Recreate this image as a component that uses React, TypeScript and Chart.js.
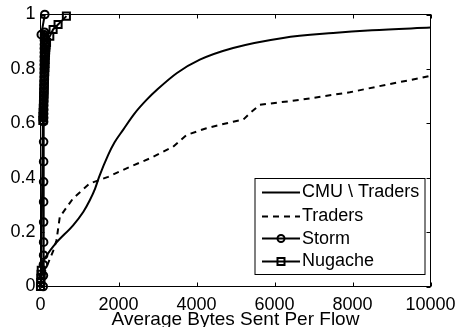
import React, { useEffect, useRef } from "react";
import { Chart, registerables } from "chart.js";
Chart.register(...registerables);

// CMU \ Traders (solid)
const cmuX = [0, 50, 160, 400, 836, 1100, 1264, 1400, 1503, 1733, 1900, 2118, 2400, 2718, 3000, 3500, 4085, 4939, 6221, 7503, 8500, 10000];
const cmuY = [0, 0.08, 0.114, 0.16, 0.225, 0.275, 0.317, 0.36, 0.403, 0.483, 0.53, 0.576, 0.634, 0.686, 0.725, 0.785, 0.834, 0.877, 0.914, 0.932, 0.942, 0.952];

// Traders (dashed)
const tradersX = [0, 150, 323, 410, 495, 836, 1264, 1733, 2290, 2803, 3400, 3744, 4256, 4939, 5195, 5367, 5623, 6649, 7931, 8872, 9726, 10000];
const tradersY = [0, 0.07, 0.13, 0.17, 0.256, 0.324, 0.379, 0.403, 0.44, 0.471, 0.514, 0.557, 0.582, 0.606, 0.613, 0.637, 0.668, 0.686, 0.714, 0.742, 0.766, 0.775];

// Storm (circles)
const stormX = [70, 75, 75, 80, 80, 80, 80, 80, 80, 80, 80, 82, 82, 84, 84, 86, 86, 88, 88, 90, 90, 92, 92, 94, 94, 96, 96, 98, 98, 100, 100, 102, 102, 104, 20, 110];
const stormY = [0, 0.04, 0.08, 0.115, 0.163, 0.237, 0.311, 0.385, 0.459, 0.532, 0.606, 0.62, 0.635, 0.65, 0.665, 0.68, 0.695, 0.71, 0.725, 0.74, 0.755, 0.77, 0.785, 0.8, 0.815, 0.83, 0.845, 0.86, 0.875, 0.89, 0.905, 0.915, 0.925, 0.935, 0.926, 1.0];

// Nugache (squares)
const nugacheX = [0, 5, 10, 15, 20, 60, 64, 68, 72, 76, 80, 84, 88, 92, 96, 100, 104, 108, 112, 116, 120, 124, 128, 132, 136, 140, 154, 238, 323, 451, 664];
const nugacheY = [0, 0.015, 0.03, 0.045, 0.06, 0.61, 0.625, 0.64, 0.655, 0.67, 0.685, 0.7, 0.715, 0.73, 0.745, 0.76, 0.775, 0.79, 0.805, 0.82, 0.835, 0.85, 0.86, 0.87, 0.88, 0.888, 0.897, 0.92, 0.945, 0.963, 0.994];

const xTicks = [0, 2000, 4000, 6000, 8000, 10000];
const yTicks = [0, 0.2, 0.4, 0.6, 0.8, 1];
const seriesNames = ["CMU \\ Traders", "Traders", "Storm", "Nugache"];
const xTitle = "Average Bytes Sent Per Flow";

const FONT = "'Liberation Sans', Arial, Helvetica, sans-serif";

const pts = (xs: number[], ys: number[]) => xs.map((x, i) => ({ x, y: ys[i] }));

const framePlugin = {
  id: "matlabFrame",
  afterDatasetsDraw(chart: any) {
    const { ctx, chartArea: a, scales } = chart;
    ctx.save();
    ctx.strokeStyle = "#000";
    ctx.lineWidth = 1;
    ctx.strokeRect(a.left, a.top, a.right - a.left, a.bottom - a.top);
    const tl = 4;
    ctx.beginPath();
    for (const v of xTicks) {
      const x = Math.round(scales.x.getPixelForValue(v)) + 0.5;
      ctx.moveTo(x, a.bottom);
      ctx.lineTo(x, a.bottom - tl);
      ctx.moveTo(x, a.top);
      ctx.lineTo(x, a.top + tl);
    }
    for (const v of yTicks) {
      const y = Math.round(scales.y.getPixelForValue(v)) + 0.5;
      ctx.moveTo(a.left, y);
      ctx.lineTo(a.left + tl, y);
      ctx.moveTo(a.right, y);
      ctx.lineTo(a.right - tl, y);
    }
    ctx.stroke();
    ctx.restore();
  },
  afterDraw(chart: any) {
    const { ctx, chartArea: a } = chart;
    const bx = a.right - 175.5;
    const by = a.bottom - 108;
    const bw = 170;
    const bh = 96;
    ctx.save();
    ctx.fillStyle = "#fff";
    ctx.fillRect(bx, by, bw, bh);
    ctx.strokeStyle = "#000";
    ctx.lineWidth = 1;
    ctx.strokeRect(bx, by, bw, bh);
    ctx.font = `18px ${FONT}`;
    ctx.textBaseline = "middle";
    ctx.textAlign = "left";
    ctx.fillStyle = "#000";
    const rowY = [13, 37, 59.5, 82];
    const x0 = bx + 7;
    const x1 = bx + 45;
    seriesNames.forEach((name, i) => {
      const y = Math.round(by + rowY[i]) + 0.5;
      ctx.beginPath();
      ctx.lineWidth = 2;
      ctx.setLineDash(i === 1 ? [6, 5] : []);
      ctx.moveTo(x0, y);
      ctx.lineTo(x1, y);
      ctx.stroke();
      ctx.setLineDash([]);
      const cx = (x0 + x1) / 2;
      if (i === 2) {
        ctx.beginPath();
        ctx.arc(cx, y, 3.5, 0, Math.PI * 2);
        ctx.stroke();
      } else if (i === 3) {
        ctx.strokeRect(cx - 3.5, y - 3.5, 7, 7);
      }
      ctx.fillText(name, x1 + 2, by + rowY[i] + 1);
    });
    ctx.restore();
  },
};

export default function App() {
  const ref = useRef<HTMLCanvasElement>(null);
  useEffect(() => {
    if (!ref.current) return;
    const chart = new Chart(ref.current, {
      type: "scatter",
      data: {
        datasets: [
          {
            label: seriesNames[0],
            data: pts(cmuX, cmuY),
            showLine: true,
            borderColor: "#000",
            borderWidth: 2,
            pointRadius: 0,
            cubicInterpolationMode: "monotone",
            order: 4,
          },
          {
            label: seriesNames[1],
            data: pts(tradersX, tradersY),
            showLine: true,
            borderColor: "#000",
            borderWidth: 2,
            borderDash: [6, 5],
            pointRadius: 0,
            order: 3,
          },
          {
            label: seriesNames[2],
            data: pts(stormX, stormY),
            showLine: true,
            borderColor: "#000",
            borderWidth: 2,
            pointStyle: "circle",
            pointRadius: 3.8,
            pointBorderWidth: 2,
            pointBorderColor: "#000",
            pointBackgroundColor: "rgba(0,0,0,0)",
            clip: false,
            order: 2,
          },
          {
            label: seriesNames[3],
            data: pts(nugacheX, nugacheY),
            showLine: true,
            borderColor: "#000",
            borderWidth: 2,
            pointStyle: "rect",
            pointRadius: 5,
            pointBorderWidth: 2,
            pointBorderColor: "#000",
            pointBackgroundColor: "rgba(0,0,0,0)",
            clip: false,
            order: 1,
          },
        ] as any,
      },
      options: {
        responsive: false,
        animation: false,
        devicePixelRatio: 1,
        layout: { padding: { top: 14.5, right: 25.5, left: 0, bottom: 0 } },
        plugins: { legend: { display: false }, tooltip: { enabled: false } },
        scales: {
          x: {
            type: "linear",
            min: 0,
            max: 10000,
            grid: { display: false, drawTicks: false },
            border: { display: false },
            afterBuildTicks: (s: any) => {
              s.ticks = xTicks.map((v) => ({ value: v }));
            },
            afterFit: (s: any) => {
              s.height = 40.5;
              s.paddingLeft = 0;
              s.paddingRight = 0;
            },
            ticks: {
              color: "#000",
              padding: 8,
              maxRotation: 0,
              autoSkip: false,
              font: { family: FONT, size: 18 },
              callback: (v: any) => String(v),
            },
            title: {
              display: true,
              text: xTitle,
              color: "#000",
              font: { family: FONT, size: 19, lineHeight: 0.8 },
              padding: 0,
            },
          },
          y: {
            type: "linear",
            min: 0,
            max: 1,
            grid: { display: false, drawTicks: false },
            border: { display: false },
            afterBuildTicks: (s: any) => {
              s.ticks = yTicks.map((v) => ({ value: v }));
            },
            afterFit: (s: any) => {
              s.width = 40.5;
              s.paddingTop = 0;
              s.paddingBottom = 0;
            },
            ticks: {
              color: "#000",
              padding: 5,
              autoSkip: false,
              font: { family: FONT, size: 18 },
              callback: (v: any) => String(Math.round(Number(v) * 10) / 10),
            },
          },
        },
      },
      plugins: [framePlugin],
    });
    return () => chart.destroy();
  }, []);
  return (
    <div style={{ position: "fixed", left: 0, top: 0, width: 456, height: 327, background: "#fff" }}>
      <canvas ref={ref} width={456} height={327} />
    </div>
  );
}
